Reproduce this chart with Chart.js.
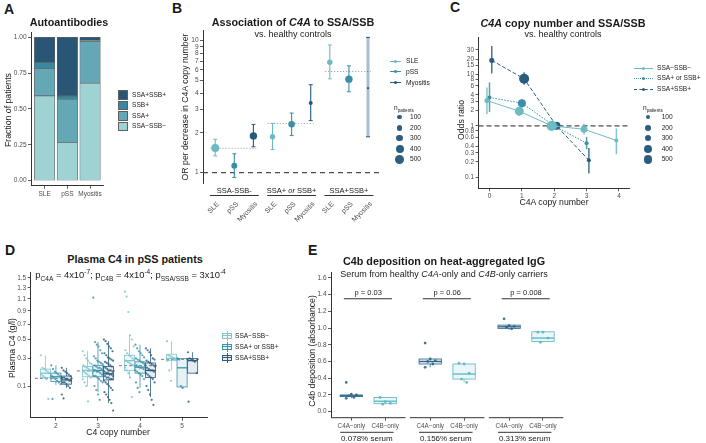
<!DOCTYPE html>
<html>
<head>
<meta charset="utf-8">
<title>C4A copy number and SSA/SSB</title>
<script src="https://cdn.jsdelivr.net/npm/chart.js@4.4.1/dist/chart.umd.min.js"></script>
<style>
  body { margin: 0; background: #fff; }
  #fig { position: relative; width: 706px; height: 443px; overflow: hidden;
         font-family: "Liberation Sans", Arial, Helvetica, sans-serif; color: #1a1a1a; }
  #fig canvas { position: absolute; }
  .c { position: absolute; white-space: nowrap; line-height: 1; transform: translate(-50%, -50%); }
  .lt { position: absolute; white-space: nowrap; line-height: 1; transform: translateY(-50%); font-size: 6.6px; }
  .rot { position: absolute; white-space: nowrap; line-height: 1; transform: translate(-50%, -50%) rotate(-90deg); font-size: 8.7px; }
  .letter { position: absolute; font-weight: bold; font-size: 14px; line-height: 1; }
  .ttl { font-weight: bold; font-size: 10.8px; }
  .sub { font-size: 9px; }
  .ax { font-size: 8.7px; }
  .sh { position: absolute; }
  sub, sup { font-size: 70%; line-height: 0; }
</style>
</head>
<body>
<div id="fig">
  <canvas id="cA" width="110" height="180" style="left:0;top:25px"></canvas>
  <canvas id="cB" width="215" height="210" style="left:170px;top:25px"></canvas>
  <canvas id="cC" width="195" height="185" style="left:440px;top:30px"></canvas>
  <canvas id="cD" width="212" height="178" style="left:0;top:265px"></canvas>
  <canvas id="cE" width="270" height="178" style="left:300px;top:265px"></canvas>

  <div class="letter" style="left:4px;top:1.5px">A</div>
  <div class="letter" style="left:172px;top:1px">B</div>
  <div class="letter" style="left:450px;top:0px">C</div>
  <div class="letter" style="left:5px;top:243px">D</div>
  <div class="letter" style="left:308px;top:243px">E</div>

  <div class="c ttl" style="left:69px;top:22px">Autoantibodies</div>
  <div class="rot" style="left:8px;top:110px">Fraction of patients</div>

  <div class="c ttl" style="left:293px;top:22px">Association of <i>C4A</i> to SSA/SSB</div>
  <div class="c sub" style="left:293px;top:34px">vs. healthy controls</div>
  <div class="rot" style="left:185px;top:107px">OR per decrease in C4A copy number</div>

  <div class="c ttl" style="left:563px;top:22.7px"><i>C4A</i> copy number and SSA/SSB</div>
  <div class="c sub" style="left:563px;top:34px">vs. healthy controls</div>
  <div class="rot" style="left:461px;top:120px">Odds ratio</div>
  <div class="c ax" style="left:554px;top:202px">C4A copy number</div>

  <div class="c ttl" style="left:135px;top:259.3px">Plasma C4 in pSS patients</div>
  <div class="c sub" style="left:130.5px;top:275px;font-size:9.4px">p<sub>C4A</sub> = 4x10<sup>-7</sup>; p<sub>C4B</sub> = 4x10<sup>-4</sup>; p<sub>SSA/SSB</sub> = 3x10<sup>-4</sup></div>
  <div class="rot" style="left:12px;top:348px">Plasma C4 (g/l)</div>
  <div class="c ax" style="left:118px;top:432px">C4 copy number</div>

  <div class="c ttl" style="left:444px;top:260.7px">C4b deposition on heat-aggregated IgG</div>
  <div class="c sub" style="left:444px;top:274.3px">Serum from healthy <i>C4A</i>-only and <i>C4B</i>-only carriers</div>
  <div class="rot" style="left:311.7px;top:351px">C4b deposition (absorbance)</div>
</div>

<script>
const FONT = '"Liberation Sans", Arial, Helvetica, sans-serif';
const TICK_COL = '#4d4d4d';
const AXIS_COL = '#333333';
Chart.defaults.font.family = FONT;
Chart.defaults.color = TICK_COL;
Chart.defaults.animation = false;
Chart.defaults.responsive = false;
Chart.defaults.plugins.legend.display = false;
Chart.defaults.plugins.tooltip.enabled = false;

// ---------- A: autoantibody profile (fraction of patients) ----------
const aDiseases = ['SLE', 'pSS', 'Myositis'];
const aNeg  = [0.591, 0.268, 0.680];   // SSA−SSB−
const aSSA  = [0.192, 0.300, 0.290];   // SSA+
const aSSB  = [0.042, 0.021, 0.008];   // SSB+
const aBoth = [0.175, 0.411, 0.022];   // SSA+SSB+
const aTicks = [0, 0.25, 0.5, 0.75, 1];

// ---------- B: OR per decrease in C4A copy number ----------
const bGroups = ['SSA-SSB-', 'SSA+ or SSB+', 'SSA+SSB+'];
const bDiseases = ['SLE', 'pSS', 'Myositis'];
const bOrSLE = [1.54, 1.87, 6.86];
const bLoSLE = [1.34, 1.50, 5.14];
const bHiSLE = [1.79, 2.36, 9.28];
const bNSLE  = [400, 170, 170];
const bOrPSS = [1.13, 2.33, 5.11];
const bLoPSS = [0.92, 1.91, 4.10];
const bHiPSS = [1.39, 2.83, 6.45];
const bNPSS  = [215, 265, 340];
const bOrMyo = [1.90, 3.37, 4.37];
const bLoMyo = [1.57, 2.48, 1.87];
const bHiMyo = [2.32, 4.64, 10.6];
const bNMyo  = [340, 85, 8];
const bPooled = [1.53, 2.36, 5.84];
const bTicks = [1, 2, 3, 4, 5, 6, 7, 8, 9, 10];

// ---------- C: OR by C4A copy number ----------
const cGroups = ['SSA−SSB−', 'SSA+ or SSB+', 'SSA+SSB+'];
const cCopiesNeg = [0, 1, 2, 3, 4];
const cCopiesPos = [0, 1, 2, 3];
const cNegOR = [3.10, 1.93, 1, 0.86, 0.52];
const cNegLo = [1.70, 1.55, 1, 0.68, 0.28];
const cNegHi = [5.60, 2.35, 1, 1.11, 0.89];
const cNegN  = [145, 510, 640, 300, 85];
const cOneOR = [3.57, 2.77, 1, 0.46];
const cOneLo = [1.87, 2.28, 1, 0.35];
const cOneHi = [7.00, 3.30, 1, 0.61];
const cOneN  = [85, 400, 320, 85];
const cBothOR = [18.8, 8.24, 1, 0.214];
const cBothLo = [10.5, 6.30, 1, 0.118];
const cBothHi = [35.7, 11.0, 1, 0.37];
const cBothN  = [145, 640, 400, 85];
const cTicks = [0.1, 0.2, 0.3, 0.4, 0.6, 0.8, 1, 2, 3, 4, 6, 8, 10, 15, 20, 30];
const sizeLegend = [100, 200, 300, 400, 500];

// ---------- D: plasma C4 (g/l) by C4 copy number ----------
const dCopies = [2, 3, 4, 5];
const dGroups = ['SSA−SSB−', 'SSA+ or SSB+', 'SSA+SSB+'];
const dTicks = [0.1, 0.3, 0.5, 0.7, 0.9, 1.1, 1.3, 1.5];
const dRef = [0.145, 0.196, 0.237, 0.292];
// box: [lower whisker, q1, median, q3, upper whisker]
const dBoxNeg  = [[0.14, 0.15, 0.18, 0.21, 0.33], [0.10, 0.155, 0.20, 0.23, 0.37], [0.15, 0.20, 0.28, 0.33, 0.55], [0.20, 0.28, 0.30, 0.34, 0.48]];
const dBoxOne  = [[0.106, 0.125, 0.155, 0.18, 0.24], [0.07, 0.155, 0.20, 0.24, 0.47], [0.09, 0.18, 0.225, 0.27, 0.44], [0.09, 0.095, 0.22, 0.30, 0.30]];
const dBoxBoth = [[0.09, 0.11, 0.135, 0.16, 0.22], [0.03, 0.135, 0.175, 0.23, 0.48], [0.05, 0.15, 0.20, 0.26, 0.40], [0.18, 0.18, 0.28, 0.30, 0.36]];
const dPtsNeg = [
  [0.33, 0.22, 0.21, 0.20, 0.19, 0.18, 0.17, 0.16, 0.15, 0.14, 0.043],
  [0.37, 0.33, 0.30, 0.28, 0.26, 0.25, 0.24, 0.23, 0.22, 0.21, 0.20, 0.20, 0.19, 0.18, 0.17, 0.16, 0.15, 0.14, 0.12, 0.10, 0.035],
  [1.23, 1.14, 0.88, 0.55, 0.50, 0.42, 0.38, 0.35, 0.33, 0.32, 0.30, 0.29, 0.28, 0.27, 0.26, 0.25, 0.24, 0.22, 0.20, 0.18, 0.15, 0.05],
  [0.48, 0.33, 0.32, 0.31, 0.30, 0.29, 0.28, 0.20, 0.13]
];
const dPtsOne = [
  [0.24, 0.21, 0.19, 0.18, 0.17, 0.16, 0.16, 0.15, 0.14, 0.13, 0.12, 0.11, 0.043],
  [1.12, 0.47, 0.44, 0.42, 0.38, 0.35, 0.32, 0.30, 0.28, 0.27, 0.26, 0.25, 0.24, 0.23, 0.22, 0.22, 0.21, 0.20, 0.20, 0.19, 0.19, 0.18, 0.17, 0.16, 0.16, 0.15, 0.14, 0.13, 0.12, 0.10, 0.08, 0.06, 0.04],
  [0.44, 0.40, 0.37, 0.35, 0.33, 0.31, 0.30, 0.29, 0.28, 0.27, 0.26, 0.25, 0.24, 0.23, 0.22, 0.22, 0.21, 0.20, 0.19, 0.18, 0.17, 0.16, 0.14, 0.12, 0.09, 0.07],
  [0.30, 0.29, 0.10, 0.09]
];
const dPtsBoth = [
  [0.22, 0.20, 0.19, 0.18, 0.17, 0.16, 0.15, 0.15, 0.14, 0.14, 0.13, 0.13, 0.12, 0.12, 0.11, 0.10, 0.09, 0.06, 0.045],
  [0.50, 0.48, 0.45, 0.42, 0.40, 0.37, 0.35, 0.33, 0.31, 0.30, 0.29, 0.28, 0.27, 0.26, 0.25, 0.24, 0.23, 0.23, 0.22, 0.21, 0.20, 0.20, 0.19, 0.19, 0.18, 0.18, 0.17, 0.17, 0.16, 0.16, 0.15, 0.15, 0.14, 0.14, 0.13, 0.12, 0.11, 0.10, 0.09, 0.08, 0.07, 0.06, 0.05, 0.04, 0.03, 0.012],
  [0.40, 0.38, 0.36, 0.33, 0.30, 0.29, 0.28, 0.27, 0.26, 0.25, 0.24, 0.23, 0.22, 0.21, 0.20, 0.20, 0.19, 0.18, 0.17, 0.16, 0.15, 0.14, 0.12, 0.10, 0.08, 0.06, 0.04, 0.025],
  [0.36, 0.30, 0.29, 0.28, 0.27, 0.18, 0.034]
];

// ---------- E: C4b deposition ----------
const eSerum = ['0.078% serum', '0.156% serum', '0.313% serum'];
const eCarriers = ['C4A−only', 'C4B−only'];
const ePvals = ['p = 0.03', 'p = 0.06', 'p = 0.008'];
const eBracketY = 1.35;
const eTicks = [0, 0.2, 0.4, 0.6, 0.8, 1.0, 1.2, 1.4, 1.6];
const eBoxA = [[0.16, 0.18, 0.19, 0.20, 0.21], [0.53, 0.57, 0.60, 0.63, 0.64], [0.98, 0.995, 1.015, 1.035, 1.04]];
const eBoxB = [[0.09, 0.095, 0.125, 0.17, 0.17], [0.35, 0.39, 0.45, 0.57, 0.58], [0.83, 0.84, 0.88, 0.955, 0.96]];
const ePtsA = [[0.35, 0.21, 0.20, 0.19, 0.17, 0.16], [0.82, 0.63, 0.61, 0.60, 0.57, 0.53], [1.11, 1.03, 1.02, 1.01, 0.99]];
const ePtsB = [[0.17, 0.12, 0.10, 0.09], [0.58, 0.57, 0.46, 0.39, 0.35], [0.95, 0.95, 0.88, 0.83]];

// ---------- helpers ----------
const rad = n => Math.sqrt(0.8 + 0.038 * n);
function rgba(hex, a) {
  const n = parseInt(hex.slice(1), 16);
  return `rgba(${n >> 16},${(n >> 8) & 255},${n & 255},${a})`;
}
function line(ctx, x1, y1, x2, y2) { ctx.beginPath(); ctx.moveTo(x1, y1); ctx.lineTo(x2, y2); ctx.stroke(); }
function fitY(w) { return s => { s.width = w; s.paddingTop = 0; s.paddingBottom = 0; }; }
function fitX(h) { return s => { s.height = h; s.paddingLeft = 0; s.paddingRight = 0; }; }
function setTicks(vals) { return s => { s.ticks = vals.map(v => ({ value: v })); }; }
const tickFont = { family: FONT, size: 6.5 };
const grid = { display: true, drawOnChartArea: false, drawTicks: true, tickLength: 3, color: AXIS_COL, lineWidth: 0.8, offset: false };
const border = { display: true, color: AXIS_COL, width: 1 };
function drawBox(ctx, x, y, cx, hw, b, col) {
  const x0 = x.getPixelForValue(cx - hw), x1 = x.getPixelForValue(cx + hw), xm = x.getPixelForValue(cx);
  const [w0, q1, md, q3, w1] = b.map(v => y.getPixelForValue(v));
  ctx.strokeStyle = col; ctx.lineWidth = 0.8;
  line(ctx, xm, w0, xm, q1); line(ctx, xm, q3, xm, w1);
  ctx.fillStyle = rgba(col, 0.12);
  ctx.fillRect(x0, q3, x1 - x0, q1 - q3);
  ctx.strokeRect(x0, q3, x1 - x0, q1 - q3);
  ctx.lineWidth = 1.3; line(ctx, x0, md, x1, md);
}
const fig = document.getElementById('fig');
function put(html, cls, x, y, css) {
  const d = document.createElement('div');
  d.className = cls; d.innerHTML = html;
  d.style.left = x + 'px'; d.style.top = y + 'px';
  if (css) d.style.cssText += css;
  fig.appendChild(d); return d;
}

// ---------- A ----------
const aCols = ['#9fd2d3', '#64a8b5', '#38889f', '#2a5676'];
const aLayers = [aNeg, aSSA, aSSB, aBoth];
const aNames = ['SSA−SSB−', 'SSA+', 'SSB+', 'SSA+SSB+'];
new Chart(document.getElementById('cA'), {
  type: 'bar',
  data: { datasets: aLayers.map((vals, k) => ({
    label: aNames[k], data: vals.map((v, i) => ({ x: i, y: v })),
    backgroundColor: aCols[k], borderColor: '#5f5f5f', borderWidth: 0.7, borderSkipped: false, barThickness: 20.5
  })) },
  options: {
    layout: { padding: { top: 7.3, right: 6.3, left: 0, bottom: 0 } },
    scales: {
      x: { type: 'linear', stacked: true, offset: false, min: -0.6, max: 2.6, afterFit: fitX(19.3), afterBuildTicks: setTicks([0, 1, 2]),
           ticks: { callback: v => aDiseases[v], font: tickFont, padding: 1.5, autoSkip: false, maxRotation: 0 }, grid, border },
      y: { stacked: true, min: -0.035, max: 1.035, afterFit: fitY(31), afterBuildTicks: setTicks(aTicks),
           ticks: { callback: v => v.toFixed(2), font: tickFont, padding: 1.5, autoSkip: false }, grid, border }
    }
  }
});
[3, 2, 1, 0].forEach((k, j) => {
  const top = 90 + j * 10.5;
  put('', 'sh', 118, top, `width:9.5px;height:9.5px;box-sizing:border-box;border:0.7px solid #5f5f5f;background:${aCols[k]}`);
  put(aNames[k], 'lt', 132, top + 4.75);
});

// ---------- B ----------
const bSeries = [
  { name: bDiseases[0], or: bOrSLE, lo: bLoSLE, hi: bHiSLE, n: bNSLE, col: '#6cb9c1' },
  { name: bDiseases[1], or: bOrPSS, lo: bLoPSS, hi: bHiPSS, n: bNPSS, col: '#3a8ea6' },
  { name: bDiseases[2], or: bOrMyo, lo: bLoMyo, hi: bHiMyo, n: bNMyo, col: '#26597c' }
];
const bWideCI = [[2, 2]];
function drawRich(ctx, text, cx, cy, size) {
  const parts = text.includes(' or ') ? [[text.split(' or ')[0] + ' ', false], ['or', true], [' ' + text.split(' or ')[1], false]] : [[text, false]];
  const fnt = it => (it ? 'italic ' : '') + size + 'px ' + FONT;
  let w = 0;
  parts.forEach(p => { ctx.font = fnt(p[1]); w += ctx.measureText(p[0]).width; });
  let xx = cx - w / 2;
  ctx.textAlign = 'left'; ctx.textBaseline = 'middle';
  parts.forEach(p => { ctx.font = fnt(p[1]); ctx.fillText(p[0], xx, cy); xx += ctx.measureText(p[0]).width; });
}
const bExtras = {
  id: 'bExtras',
  beforeDatasetsDraw(chart) {
    const { ctx, chartArea: a, scales: { x, y } } = chart;
    ctx.save();
    const y1 = y.getPixelForValue(1);
    ctx.strokeStyle = '#4d4d4d'; ctx.lineWidth = 1.2; ctx.setLineDash([5, 4]);
    line(ctx, a.left, y1, a.right, y1);
    ctx.strokeStyle = '#a8a8a8'; ctx.lineWidth = 1; ctx.setLineDash([1.2, 1.8]);
    bPooled.forEach((v, g) => {
      const py = y.getPixelForValue(v);
      line(ctx, x.getPixelForValue(g * 3 - 0.25), py, x.getPixelForValue(g * 3 + 2.15), py);
    });
    ctx.setLineDash([]);
    bSeries.forEach((s, si) => s.lo.forEach((lo, g) => {
      const px = x.getPixelForValue(g * 3 + si);
      const wide = bWideCI.some(w => w[0] === si && w[1] === g);
      const ya = y.getPixelForValue(lo), yb = y.getPixelForValue(s.hi[g]);
      ctx.strokeStyle = wide ? rgba(s.col, 0.4) : s.col;
      ctx.lineWidth = wide ? 3 : 1.1;
      line(ctx, px, ya, px, yb);
      ctx.strokeStyle = s.col; ctx.lineWidth = 1;
      line(ctx, px - 2, ya, px + 2, ya); line(ctx, px - 2, yb, px + 2, yb);
    }));
    ctx.restore();
  },
  afterDraw(chart) {
    const { ctx, chartArea: a, scales: { x } } = chart;
    ctx.save();
    bGroups.forEach((g, gi) => {
      ctx.fillStyle = '#1a1a1a';
      drawRich(ctx, g, x.getPixelForValue(gi * 3 + 1), a.bottom + 7.7, 7.5);
      ctx.strokeStyle = AXIS_COL; ctx.lineWidth = 1;
      line(ctx, x.getPixelForValue(gi * 3 - 0.28), a.bottom + 12.5, x.getPixelForValue(gi * 3 + 2.28), a.bottom + 12.5);
      bDiseases.forEach((d, di) => {
        ctx.save();
        ctx.translate(x.getPixelForValue(gi * 3 + di) + 3, a.bottom + 20);
        ctx.rotate(-Math.PI / 4);
        ctx.font = '7px ' + FONT; ctx.fillStyle = TICK_COL;
        ctx.textAlign = 'right'; ctx.textBaseline = 'middle';
        ctx.fillText(d, 0, 0);
        ctx.restore();
      });
    });
    ctx.restore();
  }
};
new Chart(document.getElementById('cB'), {
  type: 'scatter',
  data: { datasets: bSeries.map((s, si) => ({
    label: s.name, data: s.or.map((v, g) => ({ x: g * 3 + si, y: v })),
    pointRadius: s.n.map(rad), backgroundColor: s.col, borderWidth: 0
  })) },
  options: {
    layout: { padding: { top: 5, right: 3.3, left: 0, bottom: 52 } },
    scales: {
      x: { type: 'linear', min: -0.64, max: 8.68, display: false },
      y: { type: 'logarithmic', min: 0.835, max: 12.05, afterFit: fitY(33), afterBuildTicks: setTicks(bTicks),
           ticks: { callback: v => String(v), font: tickFont, padding: 1.5, autoSkip: false }, grid, border }
    }
  },
  plugins: [bExtras]
});
bSeries.forEach((s, i) => {
  const cy = [61, 71.5, 82.5][i];
  put('', 'sh', 390, cy - 0.5, `width:11px;height:0;border-top:1px solid ${s.col}`);
  put('', 'sh', 394, cy - 1.5, `width:3px;height:3px;border-radius:50%;background:${s.col}`);
  put(s.name, 'lt', 406, cy);
});
put('n<sub>patients</sub>', 'lt', 394, 108);
sizeLegend.forEach((n, i) => {
  const r = rad(n), cy = [117.3, 127.7, 138, 148.7, 159.3][i];
  put('', 'sh', 399.5 - r, cy - r, `width:${2 * r}px;height:${2 * r}px;border-radius:50%;background:#2b5e80`);
  put(String(n), 'lt', 410, cy);
});

// ---------- C ----------
const cSeries = [
  { name: cGroups[0], copies: cCopiesNeg, or: cNegOR, lo: cNegLo, hi: cNegHi, n: cNegN, col: '#6dbcc4', dash: [], css: 'solid', dodge: -0.08 },
  { name: cGroups[1], copies: cCopiesPos, or: cOneOR, lo: cOneLo, hi: cOneHi, n: cOneN, col: '#3b8fa8', dash: [1.5, 1.5], css: 'dotted', dodge: 0 },
  { name: cGroups[2], copies: cCopiesPos, or: cBothOR, lo: cBothLo, hi: cBothHi, n: cBothN, col: '#275c7e', dash: [4, 2], css: 'dashed', dodge: 0.07 }
];
const cExtras = {
  id: 'cExtras',
  beforeDatasetsDraw(chart) {
    const { ctx, chartArea: a, scales: { x, y } } = chart;
    ctx.save();
    const y1 = y.getPixelForValue(1);
    ctx.strokeStyle = '#4d4d4d'; ctx.lineWidth = 1.2; ctx.setLineDash([5, 3]);
    line(ctx, a.left, y1, a.right, y1);
    ctx.setLineDash([]);
    cSeries.forEach(s => s.copies.forEach((c, i) => {
      if (s.lo[i] === s.hi[i]) return;
      const px = x.getPixelForValue(c + s.dodge);
      ctx.strokeStyle = rgba(s.col, 0.85); ctx.lineWidth = 1.5;
      line(ctx, px, y.getPixelForValue(s.lo[i]), px, y.getPixelForValue(s.hi[i]));
    }));
    ctx.restore();
  }
};
new Chart(document.getElementById('cC'), {
  type: 'scatter',
  data: { datasets: cSeries.map(s => ({
    label: s.name, data: s.copies.map((c, i) => ({ x: c + s.dodge, y: s.or[i] })),
    showLine: true, borderColor: s.col, borderWidth: 1, borderDash: s.dash, fill: false,
    pointRadius: s.n.map(rad), pointBackgroundColor: s.col, pointBorderWidth: 0
  })) },
  options: {
    layout: { padding: { top: 7, right: 6, left: 0, bottom: 0 } },
    scales: {
      x: { type: 'linear', min: -0.34, max: 4.31, afterFit: fitX(26.7), afterBuildTicks: setTicks(cCopiesNeg),
           ticks: { callback: v => String(v), font: tickFont, padding: 1.5, autoSkip: false, maxRotation: 0 }, grid, border },
      y: { type: 'logarithmic', min: 0.061, max: 53.6, afterFit: fitY(38.5), afterBuildTicks: setTicks(cTicks),
           ticks: { callback: v => String(v), font: tickFont, padding: 1.5, autoSkip: false }, grid, border }
    }
  },
  plugins: [cExtras]
});
cSeries.forEach((s, i) => {
  const cy = [68.3, 78.3, 89][i];
  put('', 'sh', 634, cy - 0.5, `width:19px;height:0;border-top:1px ${s.css} ${s.col}`);
  put('', 'sh', 642, cy - 1.5, `width:3px;height:3px;border-radius:50%;background:${s.col}`);
  put(s.name, 'lt', 657, cy);
});
put('n<sub>patients</sub>', 'lt', 643, 108);
sizeLegend.forEach((n, i) => {
  const r = rad(n), cy = [117.3, 127.7, 138, 148.7, 159.3][i];
  put('', 'sh', 648 - r, cy - r, `width:${2 * r}px;height:${2 * r}px;border-radius:50%;background:#2b5e80`);
  put(String(n), 'lt', 661.7, cy);
});

// ---------- D ----------
const dSeries = [
  { name: dGroups[0], box: dBoxNeg, pts: dPtsNeg, col: '#80c5cc', dodge: -0.25 },
  { name: dGroups[1], box: dBoxOne, pts: dPtsOne, col: '#3c92aa', dodge: 0 },
  { name: dGroups[2], box: dBoxBoth, pts: dPtsBoth, col: '#2a5d80', dodge: 0.25 }
];
const jitterD = (i, w) => (((i * 37) % 17) / 16 - 0.5) * w;
const dExtras = {
  id: 'dExtras',
  beforeDatasetsDraw(chart) {
    const { ctx, scales: { x, y } } = chart;
    ctx.save();
    ctx.strokeStyle = '#555'; ctx.lineWidth = 0.8; ctx.setLineDash([3, 2]);
    dRef.forEach((v, g) => {
      const py = y.getPixelForValue(Math.sqrt(v));
      line(ctx, x.getPixelForValue(dCopies[g] - 0.5), py, x.getPixelForValue(dCopies[g] + 0.45), py);
    });
    ctx.setLineDash([]);
    dSeries.forEach(s => s.box.forEach((b, g) => drawBox(ctx, x, y, dCopies[g] + s.dodge, 0.12, b.map(Math.sqrt), s.col)));
    ctx.restore();
  }
};
new Chart(document.getElementById('cD'), {
  type: 'scatter',
  data: { datasets: dSeries.map(s => ({
    label: s.name,
    data: s.pts.flatMap((arr, g) => arr.map((v, i) => ({ x: dCopies[g] + s.dodge + jitterD(i, 0.22), y: Math.sqrt(v) }))),
    pointRadius: 1.1, backgroundColor: rgba(s.col, 0.85), borderWidth: 0
  })) },
  options: {
    layout: { padding: { top: 7, right: 4.7, left: 0, bottom: 0 } },
    scales: {
      x: { type: 'linear', min: 1.4, max: 5.6, afterFit: fitX(25.3), afterBuildTicks: setTicks(dCopies),
           ticks: { callback: v => String(v), font: tickFont, padding: 1.5, autoSkip: false, maxRotation: 0 }, grid, border },
      y: { type: 'linear', min: 0.05, max: 1.274, afterFit: fitY(30.7), afterBuildTicks: setTicks(dTicks.map(Math.sqrt)),
           ticks: { callback: v => (v * v).toFixed(1), font: tickFont, padding: 1.5, autoSkip: false }, grid, border }
    }
  },
  plugins: [dExtras]
});
dSeries.forEach((s, i) => {
  const cy = [335.7, 346.7, 357.7][i];
  put('', 'sh', 227, cy - 5, `width:0;height:10px;border-left:0.8px solid ${s.col}`);
  put('', 'sh', 222, cy - 3, `width:10px;height:6px;box-sizing:border-box;border:0.8px solid ${s.col};background:${rgba(s.col, 0.12)}`);
  put('', 'sh', 222, cy - 0.5, `width:10px;height:0;border-top:1px solid ${s.col}`);
  put(s.name, 'lt', 235, cy);
});

// ---------- E ----------
const eStep = 2.33;
const eSeries = [
  { name: eCarriers[0], box: eBoxA, pts: ePtsA, col: '#2f6688', off: 0 },
  { name: eCarriers[1], box: eBoxB, pts: ePtsB, col: '#5bb5c2', off: 1 }
];
const jitterE = (i, w) => (((i * 7) % 5) / 4 - 0.5) * w;
const eExtras = {
  id: 'eExtras',
  beforeDatasetsDraw(chart) {
    const { ctx, scales: { x, y } } = chart;
    ctx.save();
    eSeries.forEach(s => s.box.forEach((b, f) => drawBox(ctx, x, y, f * eStep + s.off, 0.33, b, s.col)));
    ctx.restore();
  },
  afterDraw(chart) {
    const { ctx, chartArea: a, scales: { x, y } } = chart;
    ctx.save();
    ctx.strokeStyle = AXIS_COL; ctx.lineWidth = 1; ctx.fillStyle = '#1a1a1a';
    ctx.textAlign = 'center'; ctx.textBaseline = 'middle';
    const by = y.getPixelForValue(eBracketY);
    eSerum.forEach((lab, f) => {
      const o = f * eStep;
      line(ctx, x.getPixelForValue(o - 0.6), a.bottom, x.getPixelForValue(o + 1.6), a.bottom);
      line(ctx, x.getPixelForValue(o - 0.22), by, x.getPixelForValue(o + 1.2), by);
      ctx.font = '7.5px ' + FONT;
      ctx.fillText(ePvals[f], x.getPixelForValue(o + 0.5), by - 5.5);
      line(ctx, x.getPixelForValue(o - 0.33), a.bottom + 14.6, x.getPixelForValue(o + 1.25), a.bottom + 14.6);
      ctx.font = '8px ' + FONT;
      ctx.fillText(lab, x.getPixelForValue(o + 0.46), a.bottom + 20.6);
    });
    ctx.restore();
  }
};
new Chart(document.getElementById('cE'), {
  type: 'scatter',
  data: { datasets: eSeries.map(s => ({
    label: s.name,
    data: s.pts.flatMap((arr, f) => arr.map((v, i) => ({ x: f * eStep + s.off + jitterE(i, 0.3), y: v }))),
    pointRadius: 1.4, backgroundColor: rgba(s.col, 0.9), borderWidth: 0
  })) },
  options: {
    layout: { padding: { top: 7, right: 6.7, left: 0, bottom: 0 } },
    scales: {
      x: { type: 'linear', min: -0.6, max: 2 * eStep + 1.6, afterFit: fitX(25.3),
           afterBuildTicks: setTicks([0, 1, eStep, eStep + 1, 2 * eStep, 2 * eStep + 1]),
           ticks: { callback: (v, i) => eCarriers[i % 2], font: { family: FONT, size: 6.3 }, padding: 1.5, autoSkip: false, maxRotation: 0 },
           grid, border: { display: false } },
      y: { type: 'linear', min: -0.072, max: 1.67, afterFit: fitY(31), afterBuildTicks: setTicks(eTicks),
           ticks: { callback: v => v.toFixed(1), font: tickFont, padding: 1.5, autoSkip: false }, grid, border }
    }
  },
  plugins: [eExtras]
});
</script>
</body>
</html>
